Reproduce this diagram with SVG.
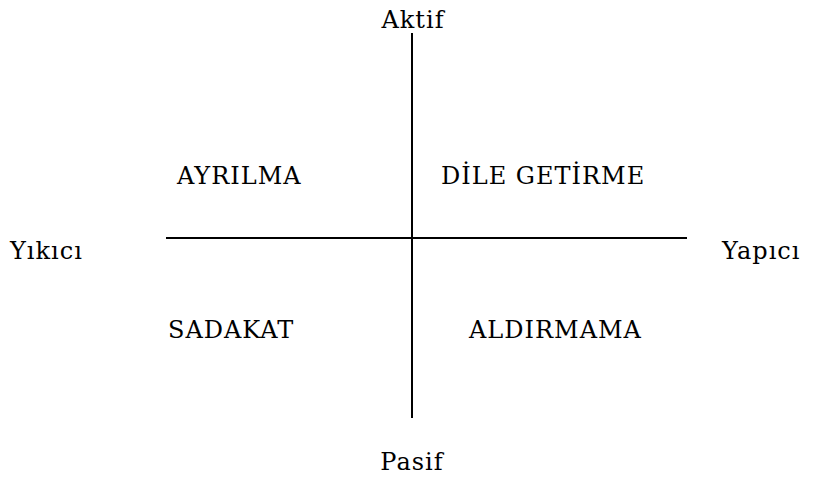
<svg xmlns="http://www.w3.org/2000/svg" width="813" height="499" viewBox="0 0 813 499">
<style>
text { font-family: "DejaVu Serif", "Liberation Serif", serif; font-size: 24px; letter-spacing: 1px; fill: #000; }
.ax { stroke: #000; stroke-width: 2; fill: none; }
</style>
<rect width="813" height="499" fill="#fff"/>
<g id="connectors">
<line class="ax" x1="412" y1="33" x2="412" y2="418"/>
<line class="ax" x1="166" y1="238" x2="687" y2="238"/>
</g>
<g id="aktif"><text x="413" y="28" text-anchor="middle">Aktif</text></g>
<g id="pasif"><text x="412" y="470" text-anchor="middle">Pasif</text></g>
<g id="yikici"><text x="10" y="259">Yıkıcı</text></g>
<g id="yapici"><text x="722" y="259">Yapıcı</text></g>
<g id="ayrilma"><text x="177" y="184">AYRILMA</text></g>
<g id="dile-getirme"><text x="441" y="184">DİLE GETİRME</text></g>
<g id="sadakat"><text x="168" y="338">SADAKAT</text></g>
<g id="aldirmama"><text x="469" y="338">ALDIRMAMA</text></g>
</svg>
